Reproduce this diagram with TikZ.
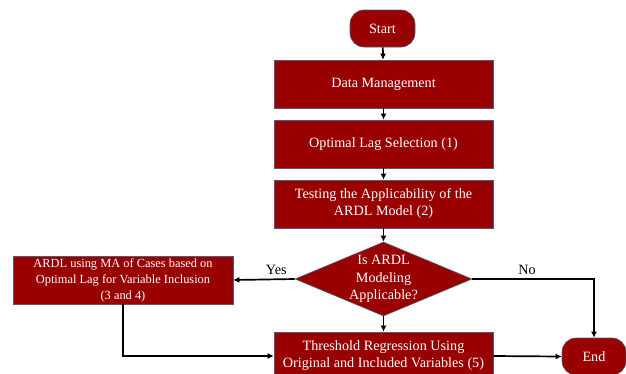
\documentclass[tikz,border=0pt]{standalone}
\usepackage{fontspec}
\setmainfont{Liberation Serif}
\usetikzlibrary{shapes.geometric,arrows.meta}

\definecolor{boxred}{HTML}{990000}
\definecolor{boxline}{HTML}{4F5B7A}

\tikzset{
    proc/.style={rectangle, fill=boxred, draw=boxline, line width=0.6pt,
        minimum width=219pt, minimum height=48pt, text=white, align=center,
        inner sep=1pt, font=\fontsize{14.2}{17}\selectfont},
    term/.style={rectangle, rounded corners=14pt, fill=boxred, draw=boxline,
        line width=0.6pt, minimum width=65pt, minimum height=37pt, text=white,
        font=\fontsize{14.2}{17}\selectfont},
    decision/.style={diamond, fill=boxred, draw=boxline, line width=0.6pt,
        minimum width=177pt, minimum height=74pt, inner sep=0pt},
    lbl/.style={text=white, align=center, font=\fontsize{14.2}{17.5}\selectfont},
    flow/.style={-{Latex[length=6pt,width=6pt]}, line width=1.7pt},
    ans/.style={font=\fontsize{14.2}{15}\selectfont}
}

\begin{document}
\begin{tikzpicture}[x=1pt, y=-1pt]
    \useasboundingbox (0,0) rectangle (626,373);

    \node[term] (start) at (382.5,28.5) {Start};
    \node[proc] (data) at (383.5,84) {Data Management};
    \node[proc] (lag) at (383.5,144) {Optimal Lag Selection (1)};
    \node[proc] (test) at (383.5,204) {Testing the Applicability of the\\ARDL Model (2)};

    \node[decision] (dec) at (383.5,279) {};
    \node[lbl] (dectext) at (dec) {Is ARDL\\Modeling\\Applicable?};

    \node[proc, minimum width=220pt, font=\fontsize{12.4}{16}\selectfont] (ardl) at (123,280)
        {ARDL using MA of Cases based on\\Optimal Lag for Variable Inclusion\\(3 and 4)};
    \node[proc] (thr) at (383.5,356) {Threshold Regression Using\\Original and Included Variables (5)};
    \node[term, minimum width=64pt] (end) at (594,356.5) {End};

    \draw[flow] (start) -- (data);
    \draw[flow] (data) -- (lag);
    \draw[flow] (lag) -- (test);
    \draw[flow] (test) -- (dec);
    \draw[flow] (dec) -- (thr);

    \draw[flow] (dec.west) -- node[ans, above, pos=0.3] {Yes} (ardl.east);
    \draw[flow] (dec.east) -- node[ans, above, pos=0.45] {No} (end.north |- dec.east) -- (end.north);
    \draw[flow] (ardl.south) |- (thr.west);
    \draw[flow] (thr.east) -- (end.west);
\end{tikzpicture}
\end{document}
